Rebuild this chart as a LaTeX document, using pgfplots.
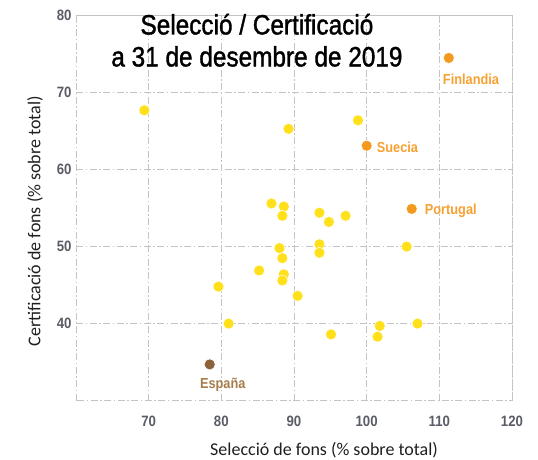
\documentclass[border=0pt]{standalone}
\usepackage{fontspec}
\usepackage{pgfplots}
\pgfplotsset{compat=1.18}
\setmainfont{Carlito}
\newfontfamily\titlefont[FakeStretch=0.87,FakeBold=1.3]{Liberation Sans}
\newfontfamily\condfont[FakeStretch=0.88]{Liberation Sans}
\definecolor{yel}{HTML}{FFE01A}
\definecolor{org}{HTML}{F39A1E}
\definecolor{orglab}{HTML}{F7A132}
\definecolor{brn}{HTML}{8C6239}
\definecolor{brnlab}{HTML}{A57D4B}
\definecolor{gridc}{HTML}{C4C4C4}
\definecolor{tickc}{HTML}{5A5C66}
\begin{document}
\begin{tikzpicture}
\useasboundingbox (0,0) rectangle (538pt,460pt);
\begin{axis}[
  at={(76pt,59.4pt)}, anchor=south west,
  scale only axis, width=436pt, height=385pt,
  xmin=60, xmax=120, ymin=30, ymax=80,
  xtick={70,80,...,120}, ytick={40,50,...,80},
  grid=major,
  major grid style={gridc, line width=0.9pt, dash pattern=on 7pt off 2.5pt on 1.5pt off 2.5pt},
  axis line style={gridc, line width=0.9pt, dash pattern=on 7pt off 2.5pt on 1.5pt off 2.5pt},
  major tick length=0pt,
  /pgf/number format/assume math mode=true,
  tick label style={font=\condfont\bfseries\fontsize{15}{15}\selectfont, text=tickc},
  xticklabel style={yshift=-12pt},
  yticklabel style={xshift=-1pt},
  xlabel={Selecció de fons (\% sobre total)},
  ylabel={Certificació de fons (\% sobre total)},
  label style={font=\fontsize{18}{18}\selectfont, text=black!88},
  xlabel style={at={(axis description cs:0.569,-0.13)}, anchor=center},
  ylabel style={at={(axis description cs:-0.094,0.466)}, anchor=center},
  clip=false,
]
\addplot[only marks, mark=*, mark size=5.5pt, mark options={fill=yel, draw=white, line width=0.5pt}] coordinates {
(69.4,67.7) (89.25,65.3) (98.8,66.4)
(86.9,55.6) (88.6,55.2) (88.4,54.0) (93.5,54.4) (94.8,53.2) (97.1,54.0)
(93.5,50.3) (93.5,49.2) (88.0,49.8) (88.4,48.5) (105.5,50.0)
(85.2,46.9) (88.6,46.4) (88.4,45.6) (79.6,44.8) (90.5,43.6)
(81.0,40.0) (95.1,38.6) (101.8,39.7) (101.5,38.3) (107.0,40.0)
};
\addplot[only marks, mark=*, mark size=5.5pt, mark options={fill=org, draw=white, line width=0.5pt}] coordinates {
(111.3,74.5) (100.0,63.1) (106.2,54.9)
};
\addplot[only marks, mark=*, mark size=5.5pt, mark options={fill=brn, draw=white, line width=0.5pt}] coordinates {
(78.4,34.7)
};
\begin{scope}[every node/.style={inner sep=0pt, font=\condfont\bfseries\fontsize{14.5}{14.5}\selectfont}]
\node[anchor=base west, text=orglab, xshift=-6pt, yshift=-26.5pt] at (axis cs:111.3,74.5) {Finlandia};
\node[anchor=base west, text=orglab, xshift=10pt, yshift=-6.5pt] at (axis cs:100.0,63.1) {Suecia};
\node[anchor=base west, text=orglab, xshift=13pt, yshift=-6pt] at (axis cs:106.2,54.9) {Portugal};
\node[anchor=base, text=brnlab, xshift=13pt, yshift=-24pt] at (axis cs:78.4,34.7) {España};
\end{scope}
\node[anchor=base, inner sep=0pt, font=\titlefont\fontsize{28}{28}\selectfont] at (axis description cs:0.415,0.951) {Selecció / Certificació};
\node[anchor=base, inner sep=0pt, font=\titlefont\fontsize{28}{28}\selectfont] at (axis description cs:0.415,0.868) {a 31 de desembre de 2019};
\end{axis}
\end{tikzpicture}
\end{document}
